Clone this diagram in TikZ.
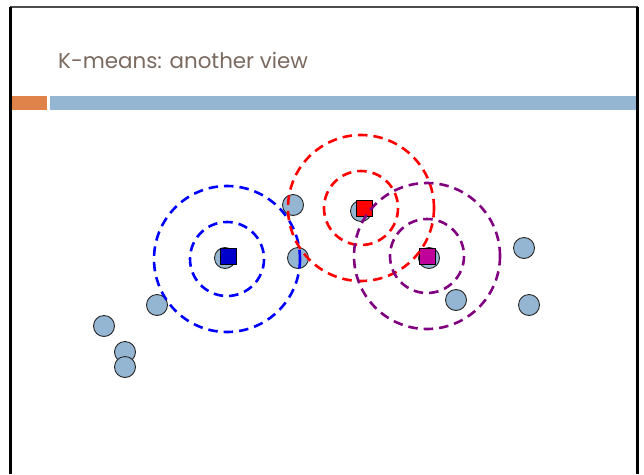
\documentclass[tikz,border=0pt]{standalone}
\usepackage{fontspec}
\newfontfamily\titlefont{Poppins}
\definecolor{titlec}{HTML}{7A6A60}
\definecolor{barorange}{HTML}{E0834A}
\definecolor{barblue}{HTML}{94B6D2}
\definecolor{ptfill}{HTML}{94B6D2}
\definecolor{ringpurple}{HTML}{800080}
\definecolor{sqmagenta}{HTML}{C0009A}
\definecolor{sqblue}{HTML}{0000CC}
\tikzset{
  pt/.style={circle, draw=black!85, line width=0.9pt, fill=ptfill, minimum size=21pt, inner sep=0pt},
  ctr/.style={rectangle, draw=black, line width=0.9pt, minimum size=16pt, inner sep=0pt},
  ring/.style={dash pattern=on 9.5pt off 6pt, line width=2.6pt},
}
\begin{document}
\begin{tikzpicture}[x=1pt,y=-1pt]
\useasboundingbox (0,0) rectangle (644,474);
% frame
\draw[line width=2pt, black!70] (10,7) -- (638,7);
\draw[line width=2.5pt, black] (10.5,7) -- (10.5,474);
\draw[line width=3pt, black] (637.5,7) -- (637.5,474);
% title and bars
\node[anchor=base west, inner sep=0pt, text=titlec, font=\titlefont\fontsize{21.4}{24}\selectfont] (title) at (58,68) {K-means: another view};
\fill[barorange] (12,96) rectangle (47,110);
\fill[barblue] (50,96) rectangle (636,110);
% points
\node[pt] (p1) at (104,326) {};
\node[pt] (p2) at (125,352) {};
\node[pt] (p3) at (125,367) {};
\node[pt] (p4) at (157,305) {};
\node[pt] (p5) at (225,258) {};
\node[pt] (p6) at (293,205) {};
\node[pt] (p7) at (298,258) {};
\node[pt] (p8) at (361,211) {};
\node[pt] (p9) at (429,258) {};
\node[pt] (p10) at (456,300) {};
\node[pt] (p11) at (524,248) {};
\node[pt] (p12) at (529,305) {};
% centers
\node[ctr, fill=sqblue] (cb) at (228,256) {};
\node[ctr, fill=red] (cr) at (364,208) {};
\node[ctr, fill=sqmagenta] (cm) at (427,256) {};
% rings
\draw[ring, blue] (227,259) circle[radius=37];
\draw[ring, blue] (227,259) circle[radius=73];
\draw[ring, red] (361,208) circle[radius=37];
\draw[ring, red] (361,208) circle[radius=73];
\draw[ring, ringpurple] (427,256) circle[radius=37];
\draw[ring, ringpurple] (427,256) circle[radius=73];
\end{tikzpicture}
\end{document}
